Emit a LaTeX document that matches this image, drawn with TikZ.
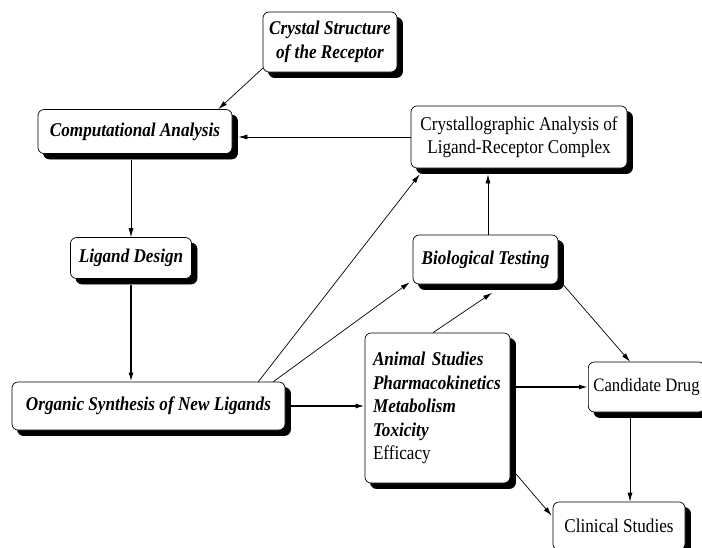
\documentclass[tikz,border=0pt]{standalone}
\usepackage{fontspec}
\setmainfont{Liberation Serif}[FakeStretch=0.88]
\usetikzlibrary{calc,arrows.meta}
\begin{document}
\begin{tikzpicture}[x=1pt,y=-1pt,
  box/.style={draw=black, line width=0.7pt, fill=white, rounded corners=6pt, inner sep=0pt, align=center,
     font=\fontsize{19.5}{23.5}\selectfont,
     preaction={fill=black, draw=black, transform canvas={shift={(5.5pt,-5.5pt)}}}},
  itbox/.style={box, font=\fontsize{19.5}{23.5}\selectfont\bfseries\itshape},
  arr/.style={-{Latex[length=9pt,width=5pt]}, line width=0.7pt},
  thk/.style={line width=1.5pt}
]
\useasboundingbox[fill=white] (0,0) rectangle (702,547);

\node[itbox, minimum width=134pt, minimum height=60pt] (cs) at (330,42) {Crystal Structure\\of the Receptor};
\node[itbox, minimum width=194pt, minimum height=44pt] (ca) at (135,131.5) {Computational Analysis};
\node[box, minimum width=216pt, minimum height=62pt] (cr) at (519,137) {Crystallographic Analysis of\\Ligand-Receptor Complex};
\node[itbox, minimum width=121pt, minimum height=41pt] (ld) at (131,258) {Ligand Design};
\node[itbox, minimum width=145pt, minimum height=49pt] (bt) at (485.5,259.5) {Biological Testing};
\node[itbox, minimum width=273pt, minimum height=48pt] (os) at (148.5,406) {Organic Synthesis of New Ligands};
\node[box, minimum width=145pt, minimum height=150pt, text width=129pt, align=left] (an) at (437.5,408)
  {{\bfseries\itshape Animal Studies}\\{\bfseries\itshape Pharmacokinetics}\\{\bfseries\itshape Metabolism}\\{\bfseries\itshape Toxicity}\\Efficacy};
\node[box, anchor=west, minimum height=50pt, inner xsep=5pt,
  font=\fontsize{19}{23}\selectfont] (cd) at (588,387) {Candidate Drug};
\node[box, minimum width=132pt, minimum height=48pt] (cl) at (619,526) {Clinical Studies};

\coordinate (cdx) at ($(cd.south west)+(42,0)$);

% connectors
\draw[arr] ($(cs.south west)+(0,-4)$) -- ($(ca.north east)+(-14,0)$);
\draw[arr] (cr.west) -- ($(cr.west -| ca.east)+(6,0)$);
\draw[arr] ($(ca.south -| ld.north)+(0,6)$) -- (ld.north);
\draw[arr,thk] ($(ld.south)+(0,6)$) -- (ld.south |- os.north);
\draw[arr] ($(os.north east)+(-27,0)$) -- ($(cr.south west)+(9,6)$);
\draw[arr] ($(os.north east)+(-12,0)$) -- ($(bt.south west)+(-3,-2)$);
\draw[arr] ($(bt.north)+(2.5,0)$) -- ($(bt.north |- cr.south)+(2.5,6)$);
\draw[arr] ($(an.north)+(-4.5,0)$) -- ($(bt.south)+(6.5,8.5)$);
\draw[arr] ($(bt.south east)+(2,-3)$) -- ($(cd.north west)+(42,0)$);
\draw[arr,thk] ($(os.east)+(5.5,0)$) -- (os.east -| an.west);
\draw[arr,thk] ($(an.east |- cd.west)+(5.5,0)$) -- (cd.west);
\draw[arr] ($(cdx)+(0,5.5)$) -- (cdx |- cl.north);
\draw[arr] ($(an.south east)+(0,-16)$) -- ($(cl.north west)+(-1,14)$);
\end{tikzpicture}
\end{document}
